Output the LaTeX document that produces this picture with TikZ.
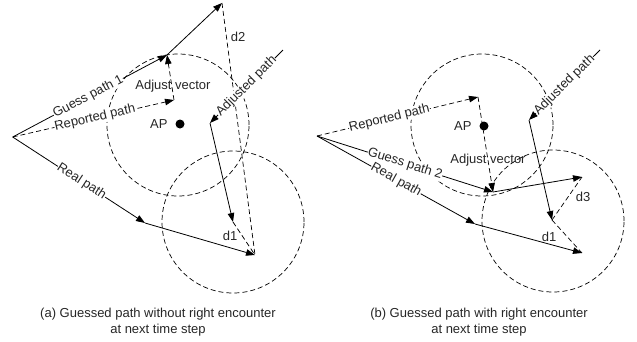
\documentclass[tikz,border=0pt]{standalone}
\usepackage{fontspec}
\setmainfont{Liberation Sans}
\usetikzlibrary{arrows.meta}
\begin{document}
\begin{tikzpicture}[x=1pt,y=-1pt,
  every node/.style={font=\fontsize{13}{16}\selectfont, text=black!85},
  arr/.style={-{Triangle[length=9pt,width=6.5pt]}, line width=0.8pt},
  dsh/.style={dash pattern=on 5pt off 3pt, line width=0.7pt},
  lbl/.style={sloped, fill=white, inner sep=0.3pt},
  dot/.style={circle, fill=black, inner sep=0pt, minimum size=9pt},
]
\useasboundingbox (0,0) rectangle (637,341);

% ---------- panel (a) ----------
\coordinate (o1) at (12.7,137);
\coordinate (g1) at (167,55);
\coordinate (g1e) at (222,3);
\coordinate (r1) at (174,100);
\coordinate (rm1) at (145,223);
\coordinate (re1) at (255,255);
\coordinate (ad1) at (283,50);
\coordinate (am1) at (210,123);
\coordinate (ae1) at (233,222);
\coordinate (c1a) at (178,125);

\draw[dsh] (c1a) circle[radius=71pt];
\draw[dsh] (ae1) circle[radius=71pt];

\node[dot] (ap1) at (180,124) {};
\node[anchor=east] (aptxt1) at (171,124.5) {AP};

\draw[arr,dsh] (o1) -- node[lbl,pos=0.51] (rl1) {Reported path} (r1);
\draw[arr] (o1) -- node[lbl,pos=0.49] (gl1) {Guess path 1} (g1);
\draw[arr] (g1) -- (g1e);
\draw[arr,dsh] (r1) -- (g1);
\node (av1) at (173,86) {Adjust vector};
\draw[arr] (o1) -- node[lbl,pos=0.52] (rpl1) {Real path} (rm1);
\draw[arr] (rm1) -- (re1);
\draw[dsh] (g1e) -- (re1);
\draw[dsh] (ae1) -- (re1);
\draw[arr] (ad1) -- node[lbl,pos=0.5] (adl1) {Adjusted path} (am1);
\draw[arr] (am1) -- (ae1);
\node (d2) at (238,37) {d2};
\node (d1a) at (230,236) {d1};

\node[align=center] (capa) at (158,322) {(a) Guessed path without right encounter\\at next time step};

% ---------- panel (b) ----------
\coordinate (o2) at (317,136);
\coordinate (r2) at (478,97);
\coordinate (g2) at (493,192);
\coordinate (g2e) at (582,177);
\coordinate (rm2) at (475,224);
\coordinate (re2) at (582,253);
\coordinate (ad2) at (600,50);
\coordinate (am2) at (529,120);
\coordinate (ae2) at (552,220);
\coordinate (c1b) at (482,125);
\coordinate (c2b) at (553,221);

\draw[dsh] (c1b) circle[radius=71pt];
\draw[dsh] (c2b) circle[radius=71pt];

\node[dot] (ap2) at (484,126) {};
\node[anchor=east] (aptxt2) at (475,126.5) {AP};

\draw[arr,dsh] (o2) -- node[lbl,pos=0.45] (rl2) {Reported path} (r2);
\draw[arr,dsh] (r2) -- (g2);
\node (av2) at (488,160) {Adjust vector};
\draw[arr] (o2) -- node[lbl,pos=0.5] (rpl2) {Real path} (rm2);
\draw[arr] (o2) -- node[lbl,pos=0.5] (gl2) {Guess path 2} (g2);
\draw[arr] (g2) -- (g2e);
\draw[arr] (rm2) -- (re2);
\draw[arr] (ad2) -- node[lbl,pos=0.5] (adl2) {Adjusted path} (am2);
\draw[arr] (am2) -- (ae2);
\draw[dsh] (ae2) -- (g2e);
\draw[dsh] (ae2) -- (re2);
\node (d3) at (583,197) {d3};
\node (d1b) at (549,237) {d1};

\node[align=center] (capb) at (479,322) {(b) Guessed path with right encounter\\at next time step};
\end{tikzpicture}
\end{document}
